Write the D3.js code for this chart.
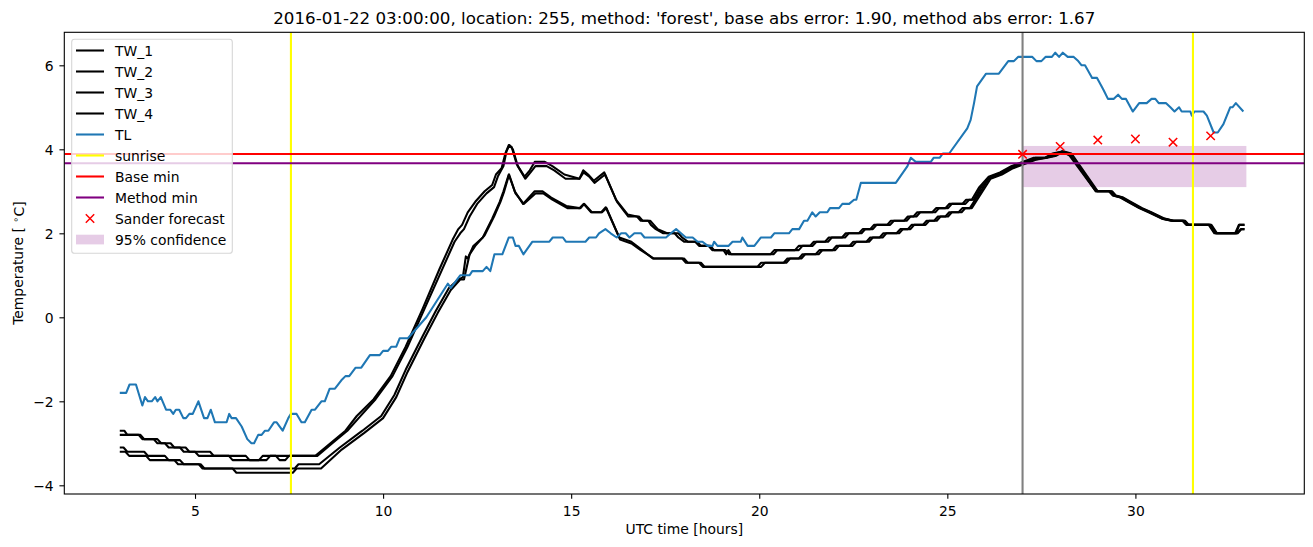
<!DOCTYPE html>
<html>
<head>
<meta charset="utf-8">
<script src="https://cdn.jsdelivr.net/npm/d3@7"></script>
<style>
  body { margin: 0; background: #fff; }
  svg { font-family: 'DejaVu Sans', sans-serif; }
</style>
</head>
<body>
<div id="chart"></div>
<script>
// hours / temperature pairs
var tw1 = [[3.0,-2.7],[3.12,-2.7],[3.2,-2.8],[3.55,-2.8],[3.65,-2.9],[4.0,-2.9],[4.1,-3.0],[4.35,-3.0],[4.45,-3.1],[4.75,-3.1],[4.85,-3.2],[5.4,-3.2],[5.5,-3.3],[6.35,-3.3],[6.45,-3.4],[6.7,-3.4],[6.8,-3.3],[8.2,-3.3],
  [8.6,-3.0],[9.0,-2.7],[9.3,-2.35],[9.75,-1.95],[10.2,-1.4],[10.6,-0.7],[11.05,0.2],[11.5,1.15],[11.85,1.85],[12.0,2.1],[12.1,2.2],[12.25,2.5],[12.45,2.75],[12.7,3.0],[12.9,3.15],[13.0,3.4],[13.15,3.55],[13.25,3.9],[13.34,4.1],[13.42,4.05],[13.55,3.65],[13.76,3.35],[13.9,3.5],[14.03,3.7],[14.3,3.7],[14.5,3.6],[14.82,3.4],[15.22,3.3],[15.32,3.5],[15.45,3.4],[15.6,3.25],[15.88,3.45],
  [16.19,2.8],[16.5,2.45],[16.75,2.4],[16.85,2.3],[17.05,2.3],[17.12,2.2],[17.25,2.1],[17.45,2.0],[17.75,2.0],[17.85,1.9],[18.0,1.8],[18.3,1.8],[18.4,1.7],[18.65,1.7],[18.75,1.6],[19.1,1.6],[19.2,1.5],[20.3,1.5],[20.4,1.6],[20.95,1.6],[21.05,1.7],[21.35,1.7],[21.45,1.8],[21.75,1.8],[21.85,1.9],[22.2,1.9],[22.3,2.0],[22.65,2.0],[22.75,2.1],[22.95,2.1],[23.05,2.2],[23.4,2.2],[23.5,2.3],[23.85,2.3],[23.95,2.4],[24.1,2.4],[24.2,2.5],[24.6,2.5],[24.7,2.6],[24.95,2.6],[25.05,2.7],[25.4,2.7],[25.5,2.8],[25.65,2.8],
  [25.85,3.1],[26.1,3.35],[26.4,3.45],[26.7,3.6],[27.0,3.7],[27.3,3.8],[27.6,3.8],[27.8,3.9],[28.05,3.95],[28.25,3.85],[28.95,3.0],[29.3,3.0],[29.4,2.9],[29.6,2.85],[29.8,2.75],[30.1,2.6],[30.35,2.5],[30.7,2.35],[30.95,2.3],[31.25,2.3],[31.35,2.2],[31.95,2.2],[32.1,2.0],[32.65,2.0],[32.75,2.2],[32.9,2.2]];

var tw2 = [[3.0,-2.8],[3.5,-2.8],[3.6,-2.9],[3.9,-2.9],[4.0,-3.0],[4.2,-3.0],[4.3,-3.1],[4.6,-3.1],[4.7,-3.2],[5.0,-3.2],[5.1,-3.3],[5.9,-3.3],[6.0,-3.4],[6.9,-3.4],[7.0,-3.3],[7.15,-3.3],[7.25,-3.4],[7.4,-3.4],[7.5,-3.3],[8.25,-3.3],
  [8.65,-3.0],[9.05,-2.7],[9.35,-2.4],[9.8,-1.95],[10.25,-1.4],[10.65,-0.7],[11.1,0.2],[11.55,1.1],[11.9,1.8],[12.05,2.0],[12.15,2.1],[12.3,2.4],[12.5,2.7],[12.75,2.95],[12.95,3.1],[13.05,3.35],[13.2,3.6],[13.28,3.95],[13.36,4.1],[13.45,4.0],[13.58,3.6],[13.78,3.3],[13.92,3.45],[14.05,3.6],[14.35,3.6],[14.55,3.5],[14.85,3.3],[15.22,3.3],[15.33,3.45],[15.48,3.35],[15.62,3.2],[15.9,3.4],
  [16.22,2.75],[16.52,2.4],[16.8,2.4],[16.9,2.3],[17.1,2.3],[17.2,2.2],[17.3,2.1],[17.55,2.0],[17.85,2.0],[17.95,1.9],[18.1,1.8],[18.35,1.8],[18.45,1.7],[18.7,1.7],[18.8,1.6],[19.05,1.6],[19.12,1.5],[19.18,1.6],[19.25,1.5],[20.38,1.5],[20.48,1.6],[21.05,1.6],[21.15,1.7],[21.42,1.7],[21.52,1.8],[21.83,1.8],[21.93,1.9],[22.28,1.9],[22.38,2.0],[22.72,2.0],[22.82,2.1],[23.02,2.1],[23.12,2.2],[23.48,2.2],[23.58,2.3],[23.92,2.3],[24.02,2.4],[24.18,2.4],[24.28,2.5],[24.68,2.5],[24.78,2.6],[25.02,2.6],[25.12,2.7],[25.48,2.7],[25.58,2.8],[25.7,2.8],
  [25.9,3.1],[26.15,3.35],[26.45,3.45],[26.75,3.6],[27.05,3.7],[27.35,3.8],[27.65,3.8],[27.85,3.9],[28.08,3.95],[28.28,3.85],[28.98,3.0],[29.35,3.0],[29.45,2.9],[29.65,2.85],[29.85,2.75],[30.15,2.6],[30.4,2.5],[30.75,2.35],[31.0,2.3],[31.3,2.3],[31.4,2.2],[32.0,2.2],[32.15,2.0],[32.7,2.0],[32.8,2.1],[32.9,2.1]];

var tw3 = [[3.0,-3.1],[3.1,-3.1],[3.2,-3.2],[3.65,-3.2],[3.75,-3.3],[4.2,-3.3],[4.3,-3.4],[4.6,-3.4],[4.7,-3.5],[5.15,-3.5],[5.25,-3.6],[7.65,-3.6],[7.75,-3.5],[8.3,-3.5],
  [8.85,-3.1],[9.45,-2.7],[9.95,-2.35],[10.3,-1.85],[10.6,-1.25],[11.05,-0.45],[11.4,0.15],[11.75,0.7],[12.0,0.9],[12.12,0.95],[12.2,1.45],[12.25,1.4],[12.4,1.7],[12.65,1.9],[12.9,2.35],[13.1,2.75],[13.2,3.0],[13.34,3.4],[13.5,3.0],[13.72,2.7],[14.03,3.0],[14.24,3.0],[14.47,2.85],[14.87,2.65],[15.22,2.6],[15.33,2.7],[15.53,2.5],[15.8,2.5],[15.92,2.62],
  [16.28,1.9],[16.6,1.8],[16.82,1.65],[17.17,1.4],[17.95,1.4],[18.05,1.3],[18.4,1.3],[18.5,1.2],[19.95,1.2],[20.05,1.3],[20.65,1.3],[20.75,1.4],[21.05,1.4],[21.15,1.5],[21.5,1.5],[21.6,1.6],[21.95,1.6],[22.05,1.7],[22.4,1.7],[22.5,1.8],[22.85,1.8],[22.95,1.9],[23.2,1.9],[23.3,2.0],[23.65,2.0],[23.75,2.1],[23.95,2.1],[24.05,2.2],[24.35,2.2],[24.45,2.3],[24.65,2.3],[24.75,2.4],[24.95,2.4],[25.05,2.5],[25.3,2.5],[25.4,2.6],[25.6,2.6],
  [25.85,2.95],[26.1,3.3],[26.4,3.4],[26.7,3.55],[27.0,3.65],[27.3,3.75],[27.6,3.8],[27.85,3.85],[28.05,3.95],[28.25,3.9],[28.95,3.0],[29.3,3.0],[29.42,2.9],[29.62,2.85],[29.82,2.75],[30.12,2.6],[30.38,2.5],[30.72,2.35],[30.98,2.3],[31.28,2.3],[31.38,2.2],[31.98,2.2],[32.12,2.0],[32.68,2.0],[32.76,2.2],[32.9,2.2]];

var tw4 = [[3.0,-3.2],[3.15,-3.2],[3.25,-3.3],[3.7,-3.3],[3.8,-3.4],[4.45,-3.4],[4.55,-3.5],[5.1,-3.5],[5.2,-3.6],[6.0,-3.6],[6.1,-3.7],[7.6,-3.7],[7.7,-3.6],[8.35,-3.6],
  [8.9,-3.15],[9.5,-2.75],[10.0,-2.4],[10.35,-1.9],[10.65,-1.3],[11.1,-0.5],[11.45,0.1],[11.8,0.65],[12.05,0.9],[12.15,0.9],[12.3,1.5],[12.45,1.7],[12.7,1.95],[12.95,2.4],[13.12,2.75],[13.22,3.0],[13.35,3.4],[13.52,2.95],[13.74,2.7],[14.05,2.95],[14.26,2.95],[14.5,2.8],[14.9,2.6],[15.25,2.6],[15.35,2.7],[15.55,2.5],[15.82,2.5],[15.94,2.6],
  [16.3,1.85],[16.62,1.75],[16.85,1.6],[17.2,1.4],[18.0,1.4],[18.1,1.3],[18.45,1.3],[18.55,1.2],[20.05,1.2],[20.15,1.3],[20.72,1.3],[20.82,1.4],[21.12,1.4],[21.22,1.5],[21.58,1.5],[21.68,1.6],[22.02,1.6],[22.12,1.7],[22.48,1.7],[22.58,1.8],[22.92,1.8],[23.02,1.9],[23.28,1.9],[23.38,2.0],[23.72,2.0],[23.82,2.1],[24.02,2.1],[24.12,2.2],[24.42,2.2],[24.52,2.3],[24.72,2.3],[24.82,2.4],[25.02,2.4],[25.12,2.5],[25.38,2.5],[25.48,2.6],[25.65,2.6],
  [25.9,2.95],[26.15,3.3],[26.45,3.4],[26.75,3.55],[27.05,3.65],[27.35,3.75],[27.65,3.8],[27.9,3.85],[28.1,3.95],[28.3,3.9],[29.0,3.0],[29.38,3.0],[29.48,2.9],[29.68,2.85],[29.88,2.75],[30.18,2.6],[30.42,2.5],[30.78,2.35],[31.02,2.3],[31.32,2.3],[31.42,2.2],[32.02,2.2],[32.17,2.0],[32.72,2.0],[32.82,2.1],[32.9,2.1]];

var tl = [[3.0,-1.8],[3.17,-1.8],[3.26,-1.6],[3.43,-1.6],[3.6,-2.1],[3.67,-1.9],[3.75,-2.0],[3.85,-2.0],[3.94,-1.9],[4.0,-2.0],[4.09,-1.9],[4.23,-2.2],[4.34,-2.2],[4.42,-2.3],[4.49,-2.2],[4.58,-2.2],[4.69,-2.4],[4.76,-2.4],[4.85,-2.3],[4.94,-2.3],[5.09,-2.0],[5.24,-2.4],[5.33,-2.4],[5.42,-2.2],[5.53,-2.5],[5.84,-2.5],[5.91,-2.3],[5.97,-2.4],[6.09,-2.4],[6.24,-2.6],[6.39,-2.9],[6.5,-3.0],[6.57,-3.0],[6.68,-2.8],[6.77,-2.8],[6.86,-2.7],[6.95,-2.7],[7.1,-2.5],[7.17,-2.5],[7.33,-2.7],[7.48,-2.4],[7.55,-2.3],[7.7,-2.3],[7.83,-2.5],[7.92,-2.5],[8.1,-2.2],[8.19,-2.2],[8.36,-2.0],[8.45,-2.0],[8.58,-1.7],[8.72,-1.7],[8.89,-1.5],[9.0,-1.4],[9.1,-1.4],[9.27,-1.2],[9.42,-1.2],[9.65,-0.9],[9.91,-0.9],[10.0,-0.8],[10.13,-0.8],[10.22,-0.7],[10.35,-0.7],[10.44,-0.5],[10.66,-0.5],
  [11.15,0.0],[11.72,0.8],[11.8,0.7],[12.05,1.0],[12.3,1.0],[12.37,1.1],[12.65,1.1],[12.75,1.2],[12.85,1.1],[12.96,1.5],[13.17,1.5],[13.34,1.9],[13.45,1.9],[13.52,1.7],[13.61,1.7],[13.73,1.5],[13.97,1.8],[14.42,1.8],[14.51,1.9],[14.78,1.9],[14.86,1.8],[15.38,1.8],[15.48,1.9],[15.66,1.9],[15.74,2.0],[15.91,2.1],[16.05,2.0],[16.21,1.9],[16.33,2.0],[16.45,2.0],[16.55,1.9],[16.68,2.0],[16.86,2.0],[16.95,1.9],[17.52,1.9],[17.65,2.0],[17.79,2.1],[17.92,2.0],[18.05,1.9],[18.23,1.9],[18.36,1.8],[18.49,1.8],[18.63,1.7],[18.76,1.7],[18.8,1.8],[18.89,1.7],[19.18,1.7],[19.29,1.8],[19.51,1.8],[19.55,1.9],[19.69,1.7],[19.87,1.7],
  [20.04,1.9],[20.31,1.9],[20.4,2.0],[20.79,2.0],[20.88,2.1],[21.06,2.1],[21.19,2.3],[21.28,2.3],[21.41,2.5],[21.5,2.4],[21.61,2.5],[21.81,2.5],[21.88,2.6],[22.12,2.6],[22.21,2.7],[22.39,2.7],[22.52,2.8],[22.58,2.8],[22.7,3.2],[23.63,3.2],[23.94,3.6],[24.03,3.8],[24.16,3.7],[24.56,3.7],[24.64,3.8],[24.8,3.8],[24.88,3.9],[25.05,3.9],[25.53,4.5],[25.62,4.7],[25.71,5.1],[25.79,5.5],[26.03,5.8],[26.37,5.8],[26.62,6.1],[26.77,6.1],[26.88,6.2],[27.26,6.2],[27.37,6.1],[27.5,6.1],[27.61,6.2],[27.78,6.2],[27.87,6.3],[27.97,6.2],[28.07,6.3],[28.2,6.2],[28.36,6.2],[28.48,6.1],[28.57,6.0],[28.66,6.0],[28.85,5.7],[28.98,5.7],[29.1,5.5],[29.16,5.4],[29.27,5.2],[29.42,5.2],[29.54,5.3],[29.64,5.2],[29.75,5.2],[29.93,4.9],[30.1,5.1],[30.3,5.1],[30.43,5.2],[30.53,5.2],[30.62,5.1],[30.81,5.1],[30.93,5.0],[31.04,4.9],[31.16,5.0],[31.23,4.9],[31.46,4.9],[31.5,4.8],[31.57,4.9],[31.81,4.9],[31.9,4.8],[32.08,4.4],[32.19,4.4],[32.34,4.6],[32.52,5.0],[32.58,5.0],[32.67,5.1],[32.87,4.9]];

var sunriseHours = [7.55, 31.53];
var forecastStart = 27;
var baseMin = 3.89;
var methodMin = 3.67;
var forecastHours = [27, 28, 29, 30, 31, 32];
var forecastValues = [3.88, 4.07, 4.22, 4.245, 4.17, 4.32];
var bandHours = [27, 32.95];
var bandLow = 3.1;
var bandHigh = 4.08;
var xTicks = [5, 10, 15, 20, 25, 30];
var yTicks = [-4, -2, 0, 2, 4, 6];

var width = 1313;
var height = 547;
var margin = { top: 32.3, right: 8.7, bottom: 53, left: 64.3 };
var graphWidth = width - margin.left - margin.right;
var graphHeight = height - margin.top - margin.bottom;
var lw = 2.08;

var svg = d3
  .select('#chart')
  .append('svg')
  .attr('width', width)
  .attr('height', height);

var graph = svg
  .append('g')
  .attr('transform', 'translate(' + margin.left + ',' + margin.top + ')');

var x = d3.scaleLinear().domain([1.525, 34.49]).range([0, graphWidth]);
var y = d3.scaleLinear().domain([-4.207, 6.786]).range([graphHeight, 0]);

svg
  .append('defs')
  .append('clipPath')
  .attr('id', 'clip')
  .append('rect')
  .attr('width', graphWidth)
  .attr('height', graphHeight);

var plot = graph.append('g').attr('clip-path', 'url(#clip)');

// confidence band (drawn under the lines like matplotlib does)
plot
  .append('rect')
  .attr('x', x(bandHours[0]))
  .attr('y', y(bandHigh))
  .attr('width', x(bandHours[1]) - x(bandHours[0]))
  .attr('height', y(bandLow) - y(bandHigh))
  .attr('fill', '#800080')
  .attr('fill-opacity', 0.2);

var line = d3
  .line()
  .x(d => x(d[0]))
  .y(d => y(d[1]));

[tw1, tw2, tw3, tw4].forEach(function (s) {
  plot
    .append('path')
    .datum(s)
    .attr('d', line)
    .attr('fill', 'none')
    .attr('stroke', '#000')
    .attr('stroke-width', lw)
    .attr('stroke-linejoin', 'round');
});

plot
  .append('path')
  .datum(tl)
  .attr('d', line)
  .attr('fill', 'none')
  .attr('stroke', '#1f77b4')
  .attr('stroke-width', lw)
  .attr('stroke-linejoin', 'round');

// forecast start
plot
  .append('line')
  .attr('x1', x(forecastStart))
  .attr('x2', x(forecastStart))
  .attr('y1', 0)
  .attr('y2', graphHeight)
  .attr('stroke', '#808080')
  .attr('stroke-width', lw);

plot
  .selectAll('.sunrise')
  .data(sunriseHours)
  .enter()
  .append('line')
  .attr('class', 'sunrise')
  .attr('x1', d => x(d))
  .attr('x2', d => x(d))
  .attr('y1', 0)
  .attr('y2', graphHeight)
  .attr('stroke', '#ffff00')
  .attr('stroke-width', lw);

plot
  .append('line')
  .attr('x1', 0)
  .attr('x2', graphWidth)
  .attr('y1', y(baseMin))
  .attr('y2', y(baseMin))
  .attr('stroke', '#ff0000')
  .attr('stroke-width', lw);

plot
  .append('line')
  .attr('x1', 0)
  .attr('x2', graphWidth)
  .attr('y1', y(methodMin))
  .attr('y2', y(methodMin))
  .attr('stroke', '#800080')
  .attr('stroke-width', lw);

function cross(g, cx, cy) {
  var r = 4.2;
  g.append('path')
    .attr('d', 'M' + (cx - r) + ',' + (cy - r) + 'L' + (cx + r) + ',' + (cy + r) +
      'M' + (cx - r) + ',' + (cy + r) + 'L' + (cx + r) + ',' + (cy - r))
    .attr('stroke', '#ff0000')
    .attr('stroke-width', 1.5)
    .attr('fill', 'none');
}

forecastHours.forEach(function (h, i) {
  cross(plot, x(h), y(forecastValues[i]));
});

// axes
var fontSize = 13.9;

var xAxis = graph
  .append('g')
  .attr('transform', 'translate(0,' + graphHeight + ')')
  .call(d3.axisBottom(x).tickValues(xTicks).tickSize(4.86).tickPadding(7).tickFormat(d3.format('d')));

var yAxis = graph
  .append('g')
  .call(d3.axisLeft(y).tickValues(yTicks).tickSize(4.86).tickPadding(5.8).tickFormat(d3.format('d')));

[xAxis, yAxis].forEach(function (a) {
  a.select('.domain').remove();
  a.selectAll('line').attr('stroke', '#000').attr('stroke-width', 1.1);
  a.selectAll('text')
    .attr('fill', '#000')
    .style('font-size', fontSize + 'px')
    .style('font-family', "'DejaVu Sans', sans-serif");
});
yAxis.selectAll('text').attr('dy', '0.36em');

graph
  .append('rect')
  .attr('width', graphWidth)
  .attr('height', graphHeight)
  .attr('fill', 'none')
  .attr('stroke', '#000')
  .attr('stroke-width', 1.1);

svg
  .append('text')
  .attr('x', margin.left + graphWidth / 2)
  .attr('y', 24)
  .attr('text-anchor', 'middle')
  .style('font-size', '16.7px')
  .text("2016-01-22 03:00:00, location: 255, method: 'forest', base abs error: 1.90, method abs error: 1.67");

svg
  .append('text')
  .attr('x', margin.left + graphWidth / 2)
  .attr('y', 534)
  .attr('text-anchor', 'middle')
  .style('font-size', fontSize + 'px')
  .text('UTC time [hours]');

var ylab = svg
  .append('text')
  .attr('transform', 'translate(22.5,' + (margin.top + graphHeight / 2) + ') rotate(-90)')
  .attr('text-anchor', 'middle')
  .style('font-size', fontSize + 'px');
ylab.append('tspan').text('Temperature [ ');
ylab.append('tspan').attr('dy', '-0.4em').style('font-size', '9.7px').text('\u2218');
ylab.append('tspan').attr('dy', '0.4em').text('C]');

// legend
var legendItems = [
  { label: 'TW_1', type: 'line', color: '#000' },
  { label: 'TW_2', type: 'line', color: '#000' },
  { label: 'TW_3', type: 'line', color: '#000' },
  { label: 'TW_4', type: 'line', color: '#000' },
  { label: 'TL', type: 'line', color: '#1f77b4' },
  { label: 'sunrise', type: 'line', color: '#ffff00' },
  { label: 'Base min', type: 'line', color: '#ff0000' },
  { label: 'Method min', type: 'line', color: '#800080' },
  { label: 'Sander forecast', type: 'marker', color: '#ff0000' },
  { label: '95% confidence', type: 'patch', color: '#800080' }
];

var legend = svg.append('g');
legend
  .append('rect')
  .attr('x', 71.7)
  .attr('y', 39.3)
  .attr('width', 160.6)
  .attr('height', 214)
  .attr('rx', 2.8)
  .attr('fill', '#fff')
  .attr('fill-opacity', 0.8)
  .attr('stroke', '#d6d6d6')
  .attr('stroke-width', 1.1);

legendItems.forEach(function (d, i) {
  var cy = 50.5 + i * 21;
  if (d.type === 'line') {
    legend
      .append('line')
      .attr('x1', 76)
      .attr('x2', 104)
      .attr('y1', cy)
      .attr('y2', cy)
      .attr('stroke', d.color)
      .attr('stroke-width', lw);
  } else if (d.type === 'marker') {
    cross(legend, 90, cy);
  } else {
    legend
      .append('rect')
      .attr('x', 76)
      .attr('y', cy - 4.8)
      .attr('width', 28)
      .attr('height', 9.7)
      .attr('fill', d.color)
      .attr('fill-opacity', 0.2);
  }
  legend
    .append('text')
    .attr('x', 115)
    .attr('y', cy + 5)
    .style('font-size', fontSize + 'px')
    .text(d.label);
});
</script>
</body>
</html>
